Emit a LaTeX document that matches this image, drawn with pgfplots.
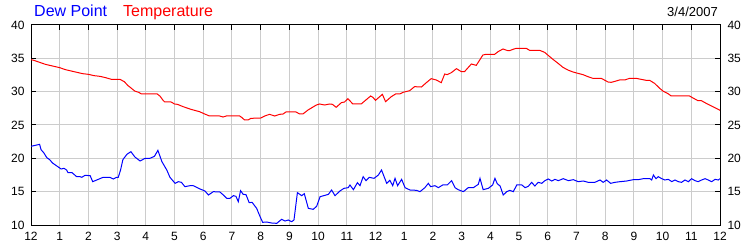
\documentclass[border=0pt]{standalone}
\usepackage{pgfplots}
\pgfplotsset{compat=1.18}
\usepackage{fontspec}
\setmainfont{Liberation Sans}
\definecolor{gridc}{RGB}{204,204,204}
\definecolor{dewc}{RGB}{0,0,255}
\definecolor{tempc}{RGB}{255,0,0}
\begin{document}
\begin{tikzpicture}
\useasboundingbox (0,0) rectangle (750bp,250bp);
\pgfplotsset{
  base/.style={
    at={(31bp,25bp)}, anchor=south west,
    scale only axis, width=689bp, height=200bp,
    xmin=0, xmax=24, ymin=10, ymax=40,
    xtick={0,1,...,24},
    xticklabels={12,1,2,3,4,5,6,7,8,9,10,11,12,1,2,3,4,5,6,7,8,9,10,11,12},
    ytick={10,15,...,40},
    /pgf/number format/assume math mode=true,
    tick label style={font=\fontsize{12bp}{14bp}\selectfont, text=black},
    tick align=inside,
    major tick length=5bp,
    every tick/.style={black, line width=1bp},
    axis line style={black, line width=1bp},
  }
}
\begin{axis}[base,
  xtick pos=upper, xticklabel pos=lower,
  ytick pos=both, yticklabel pos=left,
  xticklabel style={yshift=-4bp},
  yticklabel style={xshift=-3bp},
  grid=major,
  major grid style={gridc, line width=1bp},
]
\addplot[tempc, line width=1bp] coordinates {
(0,34.8)(0.1,34.7)(0.3,34.4)(0.5,34.1)(0.7,33.9)(1.0,33.6)(1.2,33.3)(1.4,33.1)(1.6,32.9)(1.8,32.7)
(2.0,32.6)(2.2,32.4)(2.4,32.3)(2.6,32.1)(2.8,31.85)(3.1,31.85)(3.25,31.5)(3.38,30.9)(3.5,30.5)(3.61,30.1)
(3.75,29.9)(3.85,29.65)(4.4,29.65)(4.5,29.3)(4.6,28.7)(4.66,28.45)(4.88,28.45)(5.0,28.15)(5.1,28.1)(5.3,27.75)
(5.57,27.35)(5.87,27.0)(6.05,26.65)(6.22,26.35)(6.57,26.35)(6.69,26.2)(6.8,26.35)(7.27,26.35)(7.35,26.1)(7.44,25.75)
(7.56,25.75)(7.66,26.0)(8.0,26.05)(8.14,26.35)(8.31,26.6)(8.49,26.35)(8.66,26.6)(8.78,26.65)(8.88,26.95)(9.23,26.95)
(9.36,26.65)(9.47,26.65)(9.65,27.25)(9.94,28.0)(10.05,28.15)(10.23,28.0)(10.4,28.15)(10.5,28.1)(10.63,27.65)(10.81,28.35)
(10.92,28.45)(11.04,28.95)(11.21,28.15)(11.5,28.15)(11.83,29.35)(11.91,29.15)(12.0,28.7)(12.24,29.6)(12.35,28.5)(12.55,29.25)
(12.7,29.65)(12.84,29.65)(12.96,29.9)(13.19,30.15)(13.36,30.75)(13.6,30.7)(13.77,31.35)(13.94,31.95)(14.12,31.75)(14.29,31.35)
(14.41,32.65)(14.5,32.55)(14.64,32.85)(14.82,33.45)(14.99,33.0)(15.1,33.0)(15.34,34.15)(15.51,33.95)(15.63,34.75)(15.74,35.5)
(15.85,35.6)(16.15,35.6)(16.27,36.0)(16.44,36.4)(16.61,36.15)(16.67,36.15)(16.79,36.35)(16.9,36.5)(17.25,36.5)(17.37,36.2)
(17.72,36.2)(17.89,35.9)(18.0,35.5)(18.18,34.85)(18.36,34.25)(18.53,33.65)(18.7,33.25)(18.88,32.95)(19.05,32.75)(19.23,32.55)
(19.4,32.25)(19.57,32.0)(19.86,32.0)(19.95,31.8)(20.1,31.45)(20.21,31.4)(20.3,31.5)(20.5,31.75)(20.68,31.75)(20.85,32.0)
(21.08,32.0)(21.25,31.85)(21.43,31.7)(21.55,31.7)(21.72,31.25)(21.9,30.5)(22.01,30.1)(22.19,29.7)(22.3,29.35)(22.94,29.35)
(23.06,29.05)(23.23,28.65)(23.35,28.65)(23.52,28.25)(23.7,27.85)(23.87,27.5)(24.0,27.2)
};
\addplot[dewc, line width=1bp] coordinates {
(0,21.8)(0.1,21.9)(0.2,22.0)(0.3,22.1)(0.35,21.3)(0.45,20.8)(0.55,20.1)(0.65,19.8)(0.75,19.3)(0.85,19.0)
(0.95,18.7)(1.05,18.4)(1.15,18.5)(1.24,18.25)(1.29,17.85)(1.43,17.85)(1.59,17.25)(1.71,17.25)(1.77,17.15)(1.88,17.45)
(2.06,17.4)(2.15,16.5)(2.29,16.75)(2.51,17.15)(2.75,17.15)(2.87,16.9)(2.98,17.15)(3.04,17.15)(3.12,18.25)(3.2,19.8)
(3.34,20.6)(3.48,21.0)(3.62,20.2)(3.8,19.6)(3.97,20.0)(4.14,20.0)(4.3,20.3)(4.42,21.2)(4.56,19.5)(4.73,18.25)
(4.84,17.15)(5.02,16.25)(5.13,16.5)(5.24,16.4)(5.36,15.75)(5.54,15.9)(5.65,15.9)(5.89,15.4)(6.06,15.1)(6.18,14.5)
(6.35,15.0)(6.58,14.95)(6.7,14.5)(6.82,14.0)(6.93,14.0)(7.05,14.4)(7.14,14.3)(7.22,13.5)(7.3,15.15)(7.39,14.6)
(7.49,14.55)(7.6,13.35)(7.7,13.4)(7.86,12.5)(7.98,11.25)(8.07,10.4)(8.21,10.45)(8.38,10.3)(8.56,10.25)(8.73,10.85)
(8.85,10.6)(8.96,10.75)(9.08,10.5)(9.16,10.75)(9.28,14.85)(9.43,14.4)(9.52,14.7)(9.66,12.5)(9.83,12.35)(9.95,12.8)
(10.07,14.25)(10.24,14.45)(10.36,14.6)(10.47,15.25)(10.59,14.4)(10.76,15.1)(10.9,15.5)(11.05,15.6)(11.11,16.0)(11.23,15.3)
(11.37,16.35)(11.46,15.9)(11.57,17.25)(11.67,16.65)(11.78,17.15)(11.95,17.0)(12.1,17.5)(12.21,18.25)(12.39,16.25)(12.5,16.7)
(12.6,15.9)(12.68,17.0)(12.77,15.9)(12.91,16.85)(13.03,15.6)(13.2,15.25)(13.43,15.2)(13.55,15.0)(13.72,15.6)(13.84,16.25)
(13.92,15.75)(14.07,15.9)(14.19,15.6)(14.34,16.0)(14.5,16.0)(14.65,16.65)(14.77,15.6)(14.88,15.3)(15.06,15.0)(15.23,15.6)
(15.41,15.6)(15.58,16.1)(15.64,17.0)(15.75,15.3)(15.93,15.5)(16.08,16.0)(16.16,17.0)(16.24,16.2)(16.34,15.85)(16.45,14.5)
(16.57,15.0)(16.68,15.2)(16.8,15.0)(16.92,16.0)(17.1,16.0)(17.21,15.6)(17.32,15.8)(17.44,16.4)(17.55,15.85)(17.67,16.4)
(17.79,16.25)(17.9,16.65)(18.02,16.9)(18.14,16.6)(18.25,16.85)(18.37,16.65)(18.54,16.95)(18.72,16.65)(18.89,16.8)(19.06,16.5)
(19.24,16.6)(19.41,16.4)(19.64,16.4)(19.82,16.75)(19.93,16.4)(20.05,16.75)(20.19,16.25)(20.34,16.4)(20.52,16.5)(20.75,16.6)
(20.98,16.8)(21.15,16.8)(21.33,16.95)(21.56,16.95)(21.62,16.75)(21.68,17.5)(21.77,16.95)(21.85,17.25)(21.97,16.95)(22.08,16.75)
(22.2,16.85)(22.32,16.5)(22.43,16.75)(22.55,16.5)(22.66,16.4)(22.78,16.75)(22.9,16.5)(23.01,16.95)(23.13,16.65)(23.24,16.5)
(23.36,16.75)(23.48,16.95)(23.59,16.75)(23.71,16.5)(23.83,16.85)(23.94,16.75)(24.0,16.95)
};
\end{axis}
\begin{axis}[base,
  xtick=\empty,
  ytick pos=right, yticklabel pos=right,
  yticklabel style={xshift=4bp},
  axis line style={draw=none},
  every tick/.style={draw=none},
]
\end{axis}
\node[anchor=base west, inner sep=0pt, text=dewc, font=\fontsize{16bp}{18bp}\selectfont] at (34bp,233bp) {Dew Point};
\node[anchor=base west, inner sep=0pt, text=tempc, font=\fontsize{16bp}{18bp}\selectfont] at (123bp,233bp) {Temperature};
\node[anchor=base east, inner sep=0pt, text=black, font=\fontsize{13bp}{15bp}\selectfont] at (718bp,233bp) {3/4/2007};
\end{tikzpicture}
\end{document}
